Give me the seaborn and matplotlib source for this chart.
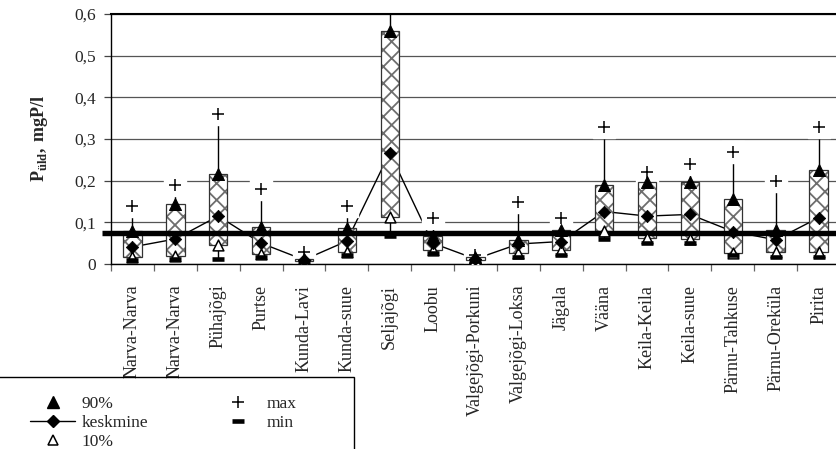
import numpy as np
import seaborn as sns
import matplotlib.pyplot as plt
from matplotlib.lines import Line2D
from matplotlib.patches import Rectangle

# andmed (loetud jooniselt)
kohad = ["Narva-Narva", "Narva-Narva", "Pühajõgi", "Purtse", "Kunda-Lavi",
         "Kunda-suue", "Seljajõgi", "Loobu", "Valgejõgi-Porkuni",
         "Valgejõgi-Loksa", "Jägala", "Vääna", "Keila-Keila", "Keila-suue",
         "Pärnu-Tahkuse", "Pärnu-Oreküla", "Pirita"]
maks = [0.14, 0.19, 0.36, 0.18, 0.03, 0.14, 0.65, 0.11, 0.022, 0.15, 0.11,
        0.33, 0.22, 0.24, 0.27, 0.20, 0.33]
p90 = [0.080, 0.144, 0.216, 0.088, 0.013, 0.086, 0.560, 0.068, 0.016, 0.057,
       0.082, 0.190, 0.198, 0.197, 0.157, 0.081, 0.226]
keskmine = [0.041, 0.060, 0.115, 0.050, 0.010, 0.055, 0.267, 0.050, 0.012,
            0.048, 0.054, 0.126, 0.115, 0.119, 0.078, 0.058, 0.111]
p10 = [0.018, 0.020, 0.046, 0.025, 0.008, 0.030, 0.112, 0.034, 0.010, 0.027,
       0.033, 0.080, 0.063, 0.060, 0.027, 0.029, 0.028]
miin = [0.010, 0.011, 0.011, 0.018, 0.006, 0.022, 0.067, 0.026, 0.008, 0.018,
        0.022, 0.059, 0.050, 0.050, 0.022, 0.018, 0.018]
piir = 0.075
y_ticks = [0, 0.1, 0.2, 0.3, 0.4, 0.5, 0.6]
y_labels = ["0", "0,1", "0,2", "0,3", "0,4", "0,5", "0,6"]

sns.set_style("ticks")
plt.rcParams['font.family'] = ['Liberation Serif', 'DejaVu Serif']
plt.rcParams['mathtext.fontset'] = 'custom'
plt.rcParams['mathtext.bf'] = 'Liberation Serif:bold'
plt.rcParams['mathtext.rm'] = 'Liberation Serif'
plt.rcParams['hatch.linewidth'] = 1.3

fig = plt.figure(figsize=(8.37, 4.49), dpi=100)
ax = fig.add_axes([111 / 837, (449 - 264) / 449, (840 - 111) / 837, 250 / 449])

x = np.arange(len(kohad))
lo = np.array(p10)
hi = np.array(p90)

# vurrud
ax.vlines(x, hi, maks, color='black', lw=1, zorder=2)
ax.vlines(x, miin, lo, color='black', lw=1, zorder=2)

# keskmise joon
sns.lineplot(x=x, y=keskmine, color='black', lw=1, ax=ax, zorder=2)

# valge taust plussmärkide all
ax.scatter(x, maks, marker='s', s=260, color='white', zorder=2.5)

# kastid
ax.bar(x, hi - lo, bottom=lo, width=0.43, color='white', edgecolor='#6e6e6e',
       hatch='xx', linewidth=0, zorder=3)
ax.bar(x, hi - lo, bottom=lo, width=0.43, fill=False, edgecolor='#333333',
       linewidth=0.9, zorder=3.1)

# piirväärtus
ax.plot([-0.71, 16.5], [piir, piir], color='black', lw=3.9, clip_on=False,
        zorder=4, solid_capstyle='butt')

sns.scatterplot(x=x, y=p90, marker='^', s=75, color='black', edgecolor='black',
                ax=ax, zorder=5)
sns.scatterplot(x=x, y=p10, marker='^', s=60, color='white', edgecolor='black',
                linewidth=1.1, ax=ax, zorder=5)
sns.scatterplot(x=x, y=keskmine, marker='D', s=40, color='black',
                edgecolor='black', ax=ax, zorder=5)
ax.plot(x, miin, ls='', marker='_', ms=8, mew=3.3, color='black', zorder=5)
ax.plot(x, maks, ls='', marker='+', ms=8, mew=1.1, color='black', zorder=6)

ax.set_xlim(-0.5, 16.5)
ax.set_ylim(0, 0.6)
ax.set_yticks(y_ticks)
ax.set_yticklabels(y_labels, fontsize=12.5)
ax.yaxis.grid(True, color='#555555', lw=0.9)
ax.set_axisbelow(True)
ax.tick_params(axis='y', length=5, width=0.9, color='#444444', pad=6)

ax.set_xticks(np.arange(-0.5, 17, 1))
ax.set_xticklabels([])
ax.set_xticks(x, minor=True)
ax.set_xticklabels(kohad, minor=True, rotation=90, va='top', fontsize=13)
ax.tick_params(axis='x', which='major', length=5, width=0.9, color='#666666')
ax.tick_params(axis='x', which='minor', length=0, pad=15)

ax.spines['right'].set_visible(False)
ax.spines['top'].set_linewidth(1.5)
for s in ['left', 'bottom', 'top']:
    ax.spines[s].set_color('black')
ax.spines['left'].set_linewidth(1)
ax.spines['bottom'].set_linewidth(1)

ax.set_ylabel(r'$\mathbf{P}_{\mathbf{üld}}\mathbf{,\,mgP/l}$', fontsize=13)
ax.yaxis.set_label_coords((50 - 111) / 729, 0.5)
ax.set_xlabel('')

# legend
fig.add_artist(Rectangle((-0.02, -0.05), 0.02 + 354 / 837, 0.05 + 1 - 377 / 449,
                         transform=fig.transFigure, fill=False,
                         edgecolor='black', lw=1, clip_on=False))
handles = [
    Line2D([], [], ls='', marker='^', ms=8, color='black'),
    Line2D([], [], ls='-', lw=1, marker='D', ms=6, color='black'),
    Line2D([], [], ls='', marker='^', ms=7, mfc='white', mec='black', mew=1.1),
    Line2D([], [], ls='', marker='+', ms=8, mew=1.1, color='black'),
    Line2D([], [], ls='', marker='_', ms=8, mew=3.3, color='black'),
]
labels = ["90%", "keskmine", "10%", "max", "min"]
fig.legend(handles, labels, loc='upper left', ncol=2, frameon=False,
           bbox_to_anchor=(30 / 837, 1 - 396 / 449), borderpad=0,
           borderaxespad=0, handlelength=2.6, handletextpad=0.35,
           columnspacing=3.9, labelspacing=0.16, prop={'size': 12.5})

fig.savefig('out.png', dpi=100)
